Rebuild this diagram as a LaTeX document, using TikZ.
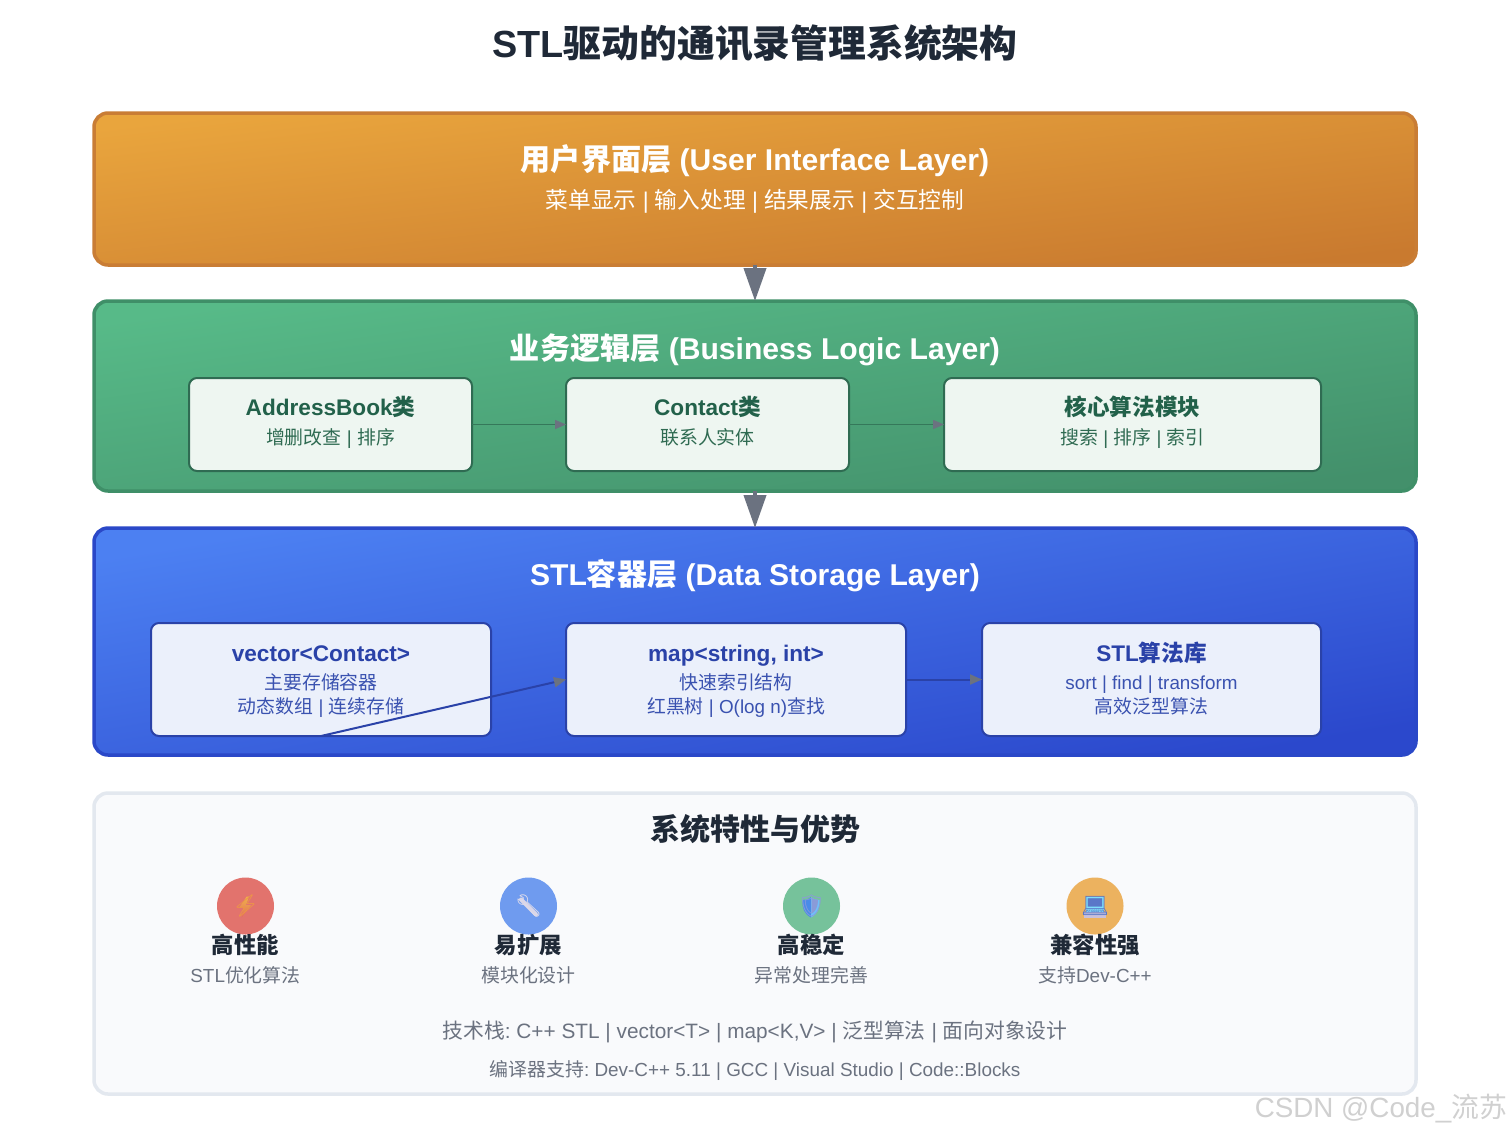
\documentclass[tikz,border=0pt]{standalone}
\usepackage{fontspec}
\setmainfont{Liberation Sans}
\newfontfamily\cjk{Noto Sans CJK SC}
\newfontfamily\emojifont{Noto Emoji}
\usetikzlibrary{arrows.meta}
\frenchspacing
\newcommand{\C}[1]{{\cjk #1}}
\newcommand{\fs}[1]{\fontsize{#1pt}{#1pt}\selectfont}
\definecolor{ink}{HTML}{1F2937}
\definecolor{mute}{HTML}{6B7280}
\definecolor{ostart}{HTML}{E9A53D}
\definecolor{oend}{HTML}{C97A2F}
\definecolor{ostroke}{HTML}{C97D35}
\definecolor{gstart}{HTML}{57BA88}
\definecolor{gend}{HTML}{43906B}
\definecolor{gstroke}{HTML}{3F8F68}
\definecolor{bstart}{HTML}{4C80F2}
\definecolor{bend}{HTML}{2B48CC}
\definecolor{bstroke}{HTML}{2A48C8}
\definecolor{gdark}{HTML}{22614A}
\definecolor{gsub}{HTML}{2F6B52}
\definecolor{bdark}{HTML}{2A42A8}
\definecolor{bsub}{HTML}{3A52B0}
\definecolor{gpale}{HTML}{EEF6F1}
\definecolor{bpale}{HTML}{EBF0FB}
\tikzset{
  x=1pt,y=-1pt,
  every node/.style={inner sep=0pt,outer sep=0pt},
  layerbox/.style n args={4}{draw=#3,line width=3.5pt,rounded corners=14pt,top color=#1,bottom color=#2,shading angle=#4},
  gbox/.style={draw=gsub,line width=2pt,rounded corners=8pt,fill=gpale},
  bbox/.style={draw=bdark,line width=2pt,rounded corners=8pt,fill=bpale},
  txt/.style={anchor=base,align=center},
  bigarrow/.style={draw=mute,line width=4pt,-{Triangle[length=33pt,width=22pt,color=mute,fill=mute]}},
  garrow/.style={draw=gsub!65!gstroke,line width=1.5pt,-{Triangle[length=11pt,width=9pt,color=mute,fill=mute]}},
  barrow/.style={draw=bdark,line width=2pt,-{Triangle[length=12pt,width=10pt,color=mute,fill=mute]}},
  icon/.style={circle,minimum size=57pt},
  glyph/.style={font=\emojifont\fs{22}},
}
\begin{document}
\begin{tikzpicture}
\useasboundingbox (0,0) rectangle (1511,1133);
\fill[white] (0,0) rectangle (1511,1133);
\node[txt,text=ink] (title) at (755,57) {\fs{37.8}\bfseries STL\C{驱动的通讯录管理系统架构}};

\node[layerbox={ostart}{oend}{ostroke}{6.56},minimum width=1322pt,minimum height=152pt] (ui) at (755,189) {};
\node[layerbox={gstart}{gend}{gstroke}{8.18},minimum width=1322pt,minimum height=190pt] (biz) at (755,396) {};
\node[layerbox={bstart}{bend}{bstroke}{9.74},minimum width=1322pt,minimum height=227pt] (data) at (755,641.5) {};
\node[draw={rgb,255:red,227;green,232;blue,239},line width=3.5pt,rounded corners=14pt,fill={rgb,255:red,249;green,250;blue,252},minimum width=1322pt,minimum height=301pt] (feat) at (755,943.5) {};

\draw[bigarrow] (ui.south) -- (biz.north);
\draw[bigarrow] (biz.south) -- (data.north);

\node[txt,text=white] (uit) at (755,170) {\fs{30.1}\bfseries \C{用户界面层} (User Interface Layer)};
\node[txt,text=white] (uis) at (755,208) {\fs{22.7}\C{菜单显示} | \C{输入处理} | \C{结果展示} | \C{交互控制}};

\node[txt,text=white] (bizt) at (755,359) {\fs{30.1}\bfseries \C{业务逻辑层} (Business Logic Layer)};
\node[gbox,minimum width=283pt,minimum height=93pt] (ab) at (330.5,424.5) {};
\node[gbox,minimum width=283pt,minimum height=93pt] (ct) at (707.5,424.5) {};
\node[gbox,minimum width=377pt,minimum height=93pt] (algo) at (1132.5,424.5) {};
\draw[garrow] (ab.east) -- (ct.west);
\draw[garrow] (ct.east) -- (algo.west);
\node[txt,text=gdark] (abt) at (330.5,415) {\fs{22.6}\bfseries AddressBook\C{类}};
\node[txt,text=gsub] (abs) at (330.5,444) {\fs{18.9}\C{增删改查} | \C{排序}};
\node[txt,text=gdark] (ctt) at (707.5,415) {\fs{22.6}\bfseries Contact\C{类}};
\node[txt,text=gsub] (cts) at (707.5,444) {\fs{18.9}\C{联系人实体}};
\node[txt,text=gdark] (algt) at (1132.5,415) {\fs{22.6}\bfseries \C{核心算法模块}};
\node[txt,text=gsub] (algs) at (1132.5,444) {\fs{18.9}\C{搜索} | \C{排序} | \C{索引}};

\node[txt,text=white] (datat) at (755,585) {\fs{30.1}\bfseries STL\C{容器层} (Data Storage Layer)};
\node[bbox,minimum width=340pt,minimum height=113pt] (vec) at (321,679.5) {};
\node[bbox,minimum width=340pt,minimum height=113pt] (map) at (736,679.5) {};
\node[bbox,minimum width=339pt,minimum height=113pt] (stl) at (1151.5,679.5) {};
\node[txt,text=bdark] (vect) at (321,661) {\fs{22.6}\bfseries vector<Contact>};
\node[txt,text=bsub] (vecs) at (321,689) {\fs{18.85}\C{主要存储容器}};
\node[txt,text=bsub] (vecu) at (321,713) {\fs{18.85}\C{动态数组} | \C{连续存储}};
\node[txt,text=bdark] (mapt) at (736,661) {\fs{22.6}\bfseries map<string, int>};
\node[txt,text=bsub] (maps) at (736,689) {\fs{18.85}\C{快速索引结构}};
\node[txt,text=bsub] (mapu) at (736,713) {\fs{18.85}\C{红黑树} | O(log n)\C{查找}};
\node[txt,text=bdark] (stlt) at (1151.5,661) {\fs{22.6}\bfseries STL\C{算法库}};
\node[txt,text=bsub] (stls) at (1151.5,689) {\fs{18.85}sort | find | transform};
\node[txt,text=bsub] (stlu) at (1151.5,713) {\fs{18.85}\C{高效泛型算法}};
\draw[barrow] (vec.south) -- (map.west);
\draw[barrow] (map.east) -- (stl.west);

\node[txt,text=ink] (featt) at (755,840) {\fs{30}\bfseries \C{系统特性与优势}};
\node[icon,fill={rgb,255:red,226;green,115;blue,109}] (i1) at (245.5,906) {};
\node[icon,fill={rgb,255:red,111;green,155;blue,239}] (i2) at (528.5,906) {};
\node[icon,fill={rgb,255:red,118;green,194;blue,155}] (i3) at (811.5,906) {};
\node[icon,fill={rgb,255:red,236;green,178;blue,95}] (i4) at (1095,906) {};
% colour fills under the outline emoji
\shade[top color={rgb,255:red,240;green,178;blue,74},bottom color={rgb,255:red,226;green,110;blue,90}]
  (246.7,896.5) -- (239.3,907.5) -- (243.3,907.5) -- (241.7,917.7) -- (251,905) -- (246,905) -- (249,896.5) -- cycle;
\draw[line width=4pt,line cap=round,color={rgb,255:red,218;green,214;blue,232}] (521,899.5) -- (536,914.5);
\fill[color={rgb,255:red,74;green,139;blue,232}] (811,897) .. controls (808,899.5) and (805,900) .. (802.5,900) .. controls (802,908) and (804,914) .. (811,917.5) -- cycle;
\fill[color={rgb,255:red,111;green,192;blue,250}] (811,897) .. controls (814,899.5) and (817,900) .. (819.5,900) .. controls (820,908) and (818,914) .. (811,917.5) -- cycle;
\fill[color={rgb,255:red,127;green,223;blue,251}] (1085.5,896.5) rectangle (1104,911.5);
\fill[color={rgb,255:red,200;green,192;blue,220}] (1083.5,912) rectangle (1106,917.5);
\node[glyph,text={rgb,255:red,236;green,150;blue,70}] (e1) at (245.5,906) {⚡};
\node[glyph,text={rgb,255:red,222;green,220;blue,235}] (e2) at (528.5,906) {🔧};
\node[glyph,text={rgb,255:red,138;green,155;blue,216}] (e3) at (811.5,906) {🛡};
\node[glyph,text={rgb,255:red,90;green,120;blue,200}] (e4) at (1095,906) {💻};
\node[txt,text=ink] (f1) at (245.5,953) {\fs{22.4}\bfseries \C{高性能}};
\node[txt,text=ink] (f2) at (528.5,953) {\fs{22.4}\bfseries \C{易扩展}};
\node[txt,text=ink] (f3) at (811.5,953) {\fs{22.4}\bfseries \C{高稳定}};
\node[txt,text=ink] (f4) at (1095,953) {\fs{22.4}\bfseries \C{兼容性强}};
\node[txt,text=mute] (s1) at (245.5,982) {\fs{18.9}STL\C{优化算法}};
\node[txt,text=mute] (s2) at (528.5,982) {\fs{18.9}\C{模块化设计}};
\node[txt,text=mute] (s3) at (811.5,982) {\fs{18.9}\C{异常处理完善}};
\node[txt,text=mute] (s4) at (1095,982) {\fs{18.9}\C{支持}Dev-C++};
\node[txt,text=mute] (tech) at (755,1038) {\fs{20.8}\C{技术栈}: C++ STL | vector<T> | map<K,V> | \C{泛型算法} | \C{面向对象设计}};
\node[txt,text=mute] (comp) at (755,1076) {\fs{18.9}\C{编译器支持}: Dev-C++ 5.11 | GCC | Visual Studio | Code::Blocks};
\node[anchor=base east,text={rgb,255:red,208;green,208;blue,208}] (wm) at (1507,1117) {\fs{27.8}CSDN @Code\_\C{流苏}};
\end{tikzpicture}
\end{document}
